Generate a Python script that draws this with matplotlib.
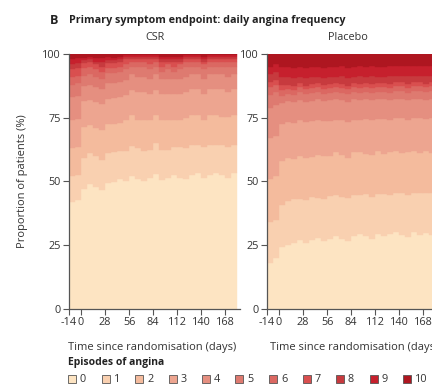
import numpy as np
import matplotlib.pyplot as plt
from matplotlib.patches import Rectangle

plt.rcParams['font.family'] = ['Open Sans', 'DejaVu Sans']

# weekly bins, start day of each week
week_start = np.arange(-14, 182, 7)
episodes = ['0', '1', '2', '3', '4', '5', '6', '7', '8', '9', '10']
colors = ['#fde4c2', '#f9d0b0', '#f4bb9d', '#eda590', '#e58f80', '#de7a70',
          '#db6862', '#d94f4f', '#c73a3e', '#c6202d', '#ae1620']

# CSR arm, % of patients per episode count, per week
csr_ep0 = [42, 43, 47, 49, 48, 47, 49, 50, 51, 50, 52, 51, 50, 52, 53, 51, 52, 53, 52, 51, 53, 54, 52, 53, 54, 53, 52, 54]
csr_ep1 = [10, 10, 12, 12, 12, 12, 12, 12, 11, 12, 12, 12, 12, 11, 12, 12, 11, 11, 12, 12, 12, 11, 12, 12, 11, 12, 12, 11]
csr_ep2 = [11, 11, 12, 11, 11, 12, 11, 11, 11, 12, 12, 11, 12, 12, 11, 12, 12, 11, 11, 12, 12, 12, 11, 12, 12, 11, 12, 12]
csr_ep3 = [11, 11, 10, 10, 10, 10, 10, 10, 10, 10, 10, 11, 11, 10, 10, 10, 10, 10, 10, 10, 10, 10, 10, 10, 10, 11, 10, 10]
csr_ep4 = [9, 9, 6, 6, 6, 6, 6, 6, 6, 6, 6, 6, 6, 6, 6, 6, 6, 6, 6, 6, 6, 6, 6, 6, 6, 6, 6, 6]
csr_ep5 = [5, 5, 4, 4, 4, 4, 4, 4, 4, 4, 3, 4, 4, 4, 3, 3, 4, 3, 4, 4, 3, 3, 4, 3, 3, 3, 4, 3]
csr_ep6 = [3, 3, 3, 3, 3, 3, 2, 2, 2, 2, 2, 2, 2, 2, 2, 2, 2, 2, 2, 2, 2, 2, 2, 2, 2, 2, 2, 2]
csr_ep7 = [3, 3, 2, 2, 2, 2, 2, 2, 2, 2, 1, 1, 1, 2, 1, 2, 1, 2, 1, 1, 1, 1, 1, 1, 1, 1, 1, 1]
csr_ep8 = [2, 2, 1, 1, 1, 2, 1, 1, 1, 1, 1, 1, 1, 1, 1, 1, 1, 1, 1, 1, 1, 1, 1, 1, 1, 1, 1, 1]
csr_ep9 = [2, 2, 1, 1, 1.5, 1.5, 1.5, 1, 1, 0.5, 0.5, 0.5, 0.5, 0.5, 0.5, 1, 1, 1, 1, 0.5, 0.5, 0.5, 1, 0.5, 0.5, 0.5, 0.5, 0.5]
csr_ep10 = [2, 1.5, 1.5, 1, 1.5, 1.5, 1, 1.5, 1, 0.5, 0.5, 0.5, 0.5, 0.5, 0.5, 1, 1, 1, 1, 0.5, 0.5, 0.5, 1, 0.5, 0.5, 0.5, 0.5, 0.5]

# Placebo arm
plc_ep0 = [18, 20, 24, 25, 26, 27, 26, 27, 28, 27, 28, 29, 28, 27, 29, 30, 29, 28, 30, 29, 30, 31, 30, 29, 31, 30, 31, 30]
plc_ep1 = [16, 15, 16, 17, 17, 16, 17, 17, 16, 17, 17, 16, 17, 17, 16, 16, 17, 17, 16, 17, 16, 16, 17, 17, 16, 17, 16, 17]
plc_ep2 = [17, 17, 17, 17, 16, 17, 17, 16, 17, 17, 16, 17, 17, 16, 17, 17, 16, 17, 17, 16, 17, 17, 16, 17, 17, 16, 17, 16]
plc_ep3 = [16, 16, 14, 14, 14, 14, 14, 14, 14, 14, 14, 13, 14, 14, 13, 13, 14, 14, 13, 14, 13, 13, 14, 13, 13, 14, 13, 14]
plc_ep4 = [12, 12, 8, 8, 8, 8, 8, 8, 8, 8, 8, 8, 8, 8, 8, 8, 8, 8, 8, 8, 8, 8, 8, 8, 8, 8, 8, 8]
plc_ep5 = [5, 5, 3, 3, 3, 3, 3, 3, 3, 3, 3, 3, 3, 3, 3, 3, 3, 3, 3, 3, 3, 3, 3, 3, 3, 3, 3, 3]
plc_ep6 = [3, 3, 2, 2, 2, 2, 2, 2, 2, 2, 2, 2, 2, 2, 2, 2, 2, 2, 2, 2, 2, 2, 2, 2, 2, 2, 2, 2]
plc_ep7 = [2, 2, 2, 1.5, 1.5, 1.5, 1.5, 1.5, 1.5, 1.5, 1.5, 1.5, 1.5, 1.5, 1.5, 1.5, 1.5, 1.5, 1.5, 1.5, 1.5, 1.5, 1.5, 1.5, 1.5, 1.5, 1.5, 1.5]
plc_ep8 = [3, 3, 3, 3, 3, 2.5, 3, 3, 2.5, 3, 3, 2.5, 3, 3, 2.5, 3, 2.5, 3, 2.5, 2.5, 3, 2.5, 2.5, 3, 2.5, 2.5, 3, 2.5]
plc_ep9 = [3, 3, 4, 4, 4, 4, 4, 4, 4, 4, 4, 4, 4, 4, 4, 4, 4, 4, 4, 4, 4, 4, 4, 4, 4, 4, 4, 4]
plc_ep10 = [5, 4, 5, 5, 5.5, 5, 5.5, 5, 5, 5.5, 5, 5, 5, 5.5, 5, 5, 5, 5, 5, 5, 5, 5, 5, 5, 5, 5, 5, 5]

csr = [csr_ep0, csr_ep1, csr_ep2, csr_ep3, csr_ep4, csr_ep5, csr_ep6, csr_ep7, csr_ep8, csr_ep9, csr_ep10]
placebo = [plc_ep0, plc_ep1, plc_ep2, plc_ep3, plc_ep4, plc_ep5, plc_ep6, plc_ep7, plc_ep8, plc_ep9, plc_ep10]

xticks = [-14, 0, 28, 56, 84, 112, 140, 168]
yticks = [0, 25, 50, 75, 100]

axis_col = '#555555'
text_col = '#333333'

fig = plt.figure(figsize=(4.32, 3.86), dpi=100)
ax1 = fig.add_axes([0.1597, 0.1995, 0.3958, 0.6606])
ax2 = fig.add_axes([0.618, 0.1995, 0.3958, 0.6606])


def draw_panel(ax, data):
    vals = np.array(data, dtype=float)
    props = vals / vals.sum(axis=0) * 100
    bottom = np.zeros(len(week_start))
    for i in range(len(episodes)):
        ax.bar(week_start, props[i], width=7, bottom=bottom, align='edge',
               color=colors[i], edgecolor=colors[i], linewidth=0.3)
        bottom += props[i]
    ax.set_xlim(-14, 185)
    ax.set_ylim(0, 100)
    ax.set_xticks(xticks)
    ax.set_xticklabels([str(t) for t in xticks])
    ax.set_yticks(yticks)
    for s in ['top', 'right']:
        ax.spines[s].set_visible(False)
    for s in ['left', 'bottom']:
        ax.spines[s].set_color(axis_col)
        ax.spines[s].set_linewidth(0.9)
    ax.tick_params(direction='out', length=4, width=0.8, color=axis_col,
                   labelsize=7.8, labelcolor=text_col, pad=2)


draw_panel(ax1, csr)
draw_panel(ax2, placebo)

fig.text(0.116, 0.948, 'B', weight='bold', fontsize=9, color='#222222', va='center')
fig.text(0.160, 0.948, 'Primary symptom endpoint: daily angina frequency', weight='bold',
         fontsize=7.75, color='#222222', va='center')
fig.text(0.359, 0.902, 'CSR', fontsize=7.8, color=text_col, ha='center', va='center')
fig.text(0.806, 0.902, 'Placebo', fontsize=7.8, color=text_col, ha='center', va='center')
fig.text(0.051, 0.531, 'Proportion of patients (%)', rotation=90, fontsize=8,
         color=text_col, ha='center', va='center')
fig.text(0.352, 0.101, 'Time since randomisation (days)', fontsize=8, color=text_col,
         ha='center', va='center')
fig.text(0.819, 0.101, 'Time since randomisation (days)', fontsize=8, color=text_col,
         ha='center', va='center')

# legend
fig.text(68 / 432, 1 - 363 / 386, 'Episodes of angina', weight='bold', fontsize=7.5,
         color='#222222', va='center')
for i, lab in enumerate(episodes):
    x0 = (68 + i * 33.5) / 432
    fig.add_artist(Rectangle((x0, 1 - 383 / 386), 8 / 432, 8 / 386, transform=fig.transFigure,
                             facecolor=colors[i], edgecolor='#555555', linewidth=0.6))
    fig.text(x0 + 12 / 432, 1 - 379 / 386, lab, fontsize=7.8, color=text_col, va='center')

fig.savefig('out.png', dpi=100)
